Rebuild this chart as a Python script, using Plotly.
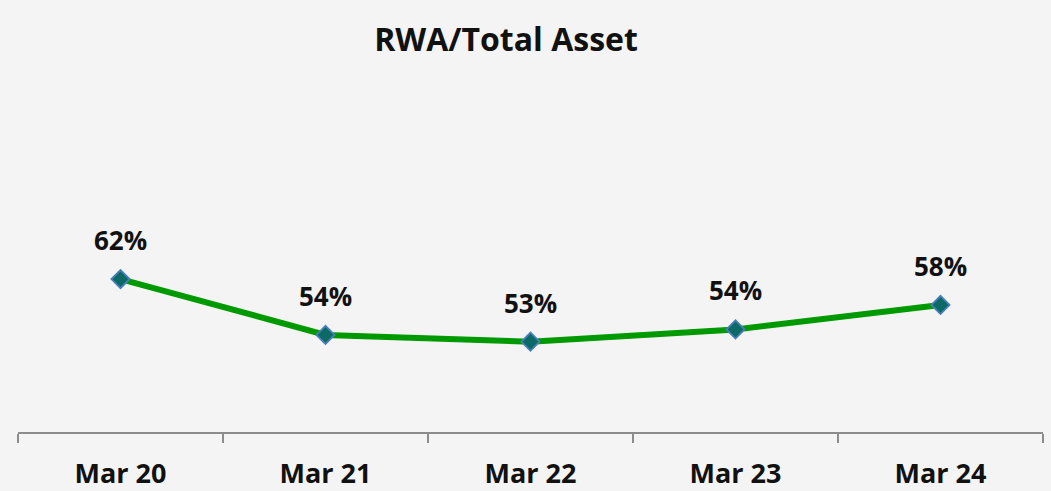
import plotly.graph_objects as go

categories = ["Mar 20", "Mar 21", "Mar 22", "Mar 23", "Mar 24"]
rwa_ratio = [61.8, 53.6, 52.6, 54.4, 58.0]
title_text = "RWA/Total Asset"

FONT = "Open Sans"

fig = go.Figure()
fig.add_trace(go.Scatter(
    x=categories, y=rwa_ratio, mode="lines+markers",
    line=dict(color="#009a00", width=6),
    marker=dict(symbol="diamond", size=14, color="#0b6a66",
                line=dict(color="#4a7ebb", width=1.8)),
    hoverinfo="skip", showlegend=False, cliponaxis=False,
))

for c, v in zip(categories, rwa_ratio):
    fig.add_annotation(x=c, y=v, text=f"{round(v)}%", showarrow=False,
                       yshift=39, font=dict(family=FONT, size=26, color="#111111"))

fig.update_layout(
    width=1051, height=491,
    margin=dict(l=18, r=8, t=60, b=59, autoexpand=False),
    paper_bgcolor="#f4f4f4", plot_bgcolor="rgba(0,0,0,0)",
    title=dict(text=f"<b>{title_text}</b>", x=506/1051, xref="container",
               xanchor="center", y=1-40/491, yanchor="middle",
               font=dict(family=FONT, size=32, color="#111111")),
    font=dict(family=FONT),
)
fig.update_xaxes(
    type="category", range=[-0.5, 4.5], showgrid=False, zeroline=False,
    showline=True, linecolor="#8c8c8c", linewidth=2, automargin=False,
    ticks="outside", tickson="boundaries", ticklen=9, tickwidth=2, tickcolor="#8c8c8c",
    tickfont=dict(family=FONT, size=27, color="#111111", weight="bold"),
    ticklabelstandoff=17,
)
fig.update_yaxes(range=[39.32, 94.02], visible=False, showgrid=False, zeroline=False)

for a in fig.layout.annotations:
    a.font.weight = "bold"

fig.write_html("out.html", config={"displayModeBar": False},
               post_script="document.body.style.margin='0';document.body.style.overflow='hidden';")
